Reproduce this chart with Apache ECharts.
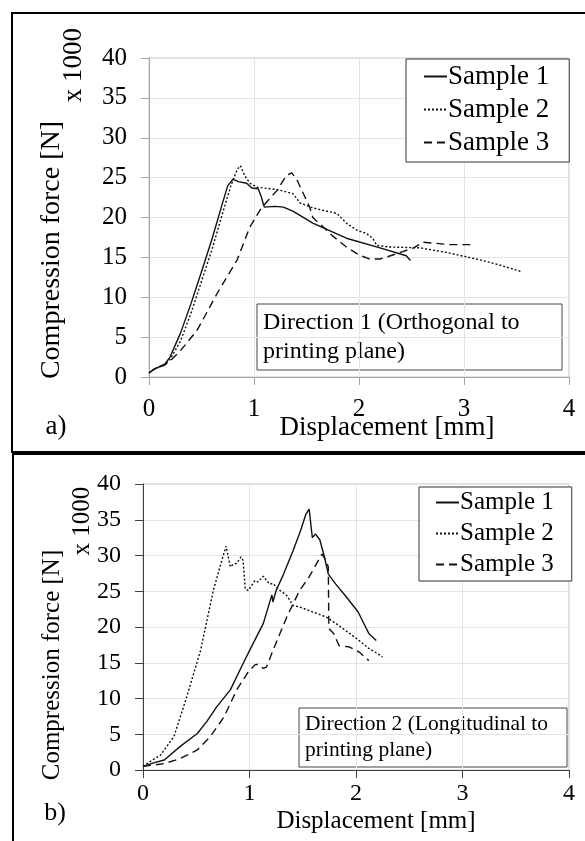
<!DOCTYPE html>
<html>
<head>
<meta charset="utf-8">
<script src="https://cdn.jsdelivr.net/npm/echarts@6/dist/echarts.min.js"></script>
<style>
  html, body { margin: 0; padding: 0; background: #fff; }
  #chart { width: 585px; height: 841px; }
</style>
</head>
<body>
<div id="chart"></div>
<script>
// axis ticks
const xTicks = [0, 1, 2, 3, 4];
const yTicks = [0, 5, 10, 15, 20, 25, 30, 35, 40];
const sampleNames = ['Sample 1', 'Sample 2', 'Sample 3'];

// a) Direction 1 - displacement [mm] / force [N x 1000]
const dir1S1x = [0, 0.05, 0.15, 0.2, 0.3, 0.4, 0.5, 0.6, 0.7, 0.75, 0.8, 0.85, 0.93, 0.98, 1.04, 1.07, 1.09, 1.1, 1.2, 1.28, 1.37, 1.56, 1.88, 2.2, 2.45, 2.49];
const dir1S1y = [0.5, 1.0, 1.6, 2.5, 5.5, 9.2, 13.2, 17.3, 21.8, 24.0, 24.8, 24.5, 24.3, 23.7, 23.6, 22.6, 21.6, 21.3, 21.4, 21.3, 20.8, 19.3, 17.4, 16.2, 15.2, 14.6];
const dir1S2x = [0, 0.05, 0.15, 0.2, 0.3, 0.4, 0.5, 0.6, 0.7, 0.78, 0.84, 0.87, 0.91, 0.96, 1.03, 1.22, 1.25, 1.37, 1.44, 1.56, 1.79, 1.88, 1.98, 2.07, 2.13, 2.17, 2.29, 2.58, 2.84, 3.15, 3.35, 3.55];
const dir1S2y = [0.5, 1.0, 1.6, 2.2, 4.5, 8.0, 12.0, 16.0, 20.5, 24.0, 26.0, 26.5, 25.3, 24.3, 23.8, 23.5, 23.4, 23.0, 21.8, 21.2, 20.5, 19.3, 18.4, 18.0, 17.4, 16.5, 16.3, 16.2, 15.6, 14.7, 14.0, 13.2];
const dir1S3x = [0, 0.05, 0.15, 0.2, 0.3, 0.46, 0.65, 0.84, 0.96, 1.07, 1.22, 1.31, 1.36, 1.41, 1.47, 1.53, 1.56, 1.66, 1.72, 1.88, 2.0, 2.1, 2.2, 2.3, 2.52, 2.61, 2.87, 3.1];
const dir1S3y = [0.5, 1.0, 1.5, 2.0, 3.3, 5.9, 10.5, 14.7, 18.8, 21.2, 23.4, 25.3, 25.6, 24.7, 23.0, 21.3, 20.0, 18.8, 18.0, 16.3, 15.3, 14.8, 14.8, 15.2, 16.2, 16.9, 16.6, 16.6];

// b) Direction 2
const dir2S1x = [0, 0.1, 0.2, 0.35, 0.51, 0.6, 0.69, 0.82, 0.94, 1.0, 1.13, 1.21, 1.22, 1.25, 1.32, 1.41, 1.48, 1.53, 1.56, 1.59, 1.62, 1.66, 1.7, 1.74, 1.81, 1.91, 2.02, 2.09, 2.12, 2.19];
const dir2S1y = [0.5, 1.0, 1.4, 3.3, 5.1, 6.8, 8.8, 11.2, 14.9, 16.7, 20.5, 24.5, 23.5, 25.1, 27.4, 30.7, 33.5, 35.8, 36.5, 32.5, 33.0, 32.2, 30.0, 27.4, 26.0, 24.2, 22.1, 20.0, 19.1, 18.1];
const dir2S2x = [0, 0.08, 0.165, 0.29, 0.41, 0.54, 0.66, 0.74, 0.78, 0.82, 0.85, 0.88, 0.92, 0.94, 0.96, 0.99, 1.05, 1.08, 1.13, 1.16, 1.19, 1.22, 1.27, 1.35, 1.41, 1.47, 1.56, 1.72, 1.81, 1.94, 2.03, 2.12, 2.2, 2.25];
const dir2S2y = [0.5, 1.3, 2.1, 4.65, 10.2, 16.7, 25.1, 29.3, 31.3, 28.4, 28.8, 28.9, 29.8, 29.3, 25.3, 25.1, 26.5, 26.3, 27.1, 26.5, 26.0, 26.1, 25.3, 24.4, 23.0, 22.8, 22.3, 21.4, 20.5, 19.1, 18.1, 17.0, 16.3, 15.8];
const dir2S3x = [0, 0.2, 0.35, 0.51, 0.63, 0.76, 0.88, 1.0, 1.02, 1.05, 1.08, 1.13, 1.16, 1.22, 1.35, 1.47, 1.56, 1.68, 1.72, 1.74, 1.745, 1.79, 1.84, 1.94, 2.03, 2.12];
const dir2S3y = [0.5, 0.9, 1.6, 2.8, 4.65, 7.4, 11.2, 14.0, 14.2, 14.7, 14.8, 14.2, 14.4, 16.7, 21.4, 25.1, 27.0, 30.2, 29.3, 28.4, 19.8, 19.1, 17.4, 17.2, 16.5, 15.3];

const serif = '"Liberation Serif", "DejaVu Serif", serif';
const zip = (xs, ys) => xs.map((x, i) => [x, ys[i]]);
const lineTypes = ['solid', [2, 2], [8, 5]];

const chart = echarts.init(document.getElementById('chart'));

function axesFor(idx, axisColor, fontSize, xMargin) {
	const x = {
		type: 'value', gridIndex: idx, min: xTicks[0], max: xTicks[xTicks.length - 1], interval: 1,
		axisLine: { show: true, lineStyle: { color: axisColor } },
		axisTick: { show: true, length: 8, lineStyle: { color: axisColor } },
		splitLine: { show: true, lineStyle: { color: '#e4e4e4' } },
		axisLabel: { color: '#000', fontFamily: serif, fontSize: fontSize, margin: xMargin }
	};
	const y = {
		type: 'value', gridIndex: idx, min: yTicks[0], max: yTicks[yTicks.length - 1], interval: 5,
		axisLine: { show: true, lineStyle: { color: axisColor } },
		axisTick: { show: true, length: 8, lineStyle: { color: axisColor } },
		splitLine: { show: true, lineStyle: { color: '#e4e4e4' } },
		axisLabel: { color: '#000', fontFamily: serif, fontSize: fontSize, margin: 22 }
	};
	return [x, y];
}

const [xa, ya] = axesFor(0, '#a6a6a6', 25, 20);
const [xb, yb] = axesFor(1, '#404040', 24, 12);

const dataSets = [
	[zip(dir1S1x, dir1S1y), zip(dir1S2x, dir1S2y), zip(dir1S3x, dir1S3y)],
	[zip(dir2S1x, dir2S1y), zip(dir2S2x, dir2S2y), zip(dir2S3x, dir2S3y)]
];

const series = [];
dataSets.forEach((set, g) => {
	set.forEach((data, i) => {
		series.push({
			name: sampleNames[i], type: 'line', xAxisIndex: g, yAxisIndex: g,
			data: data, symbol: 'none', smooth: false, animation: false,
			lineStyle: { color: '#111', width: 1.4, type: lineTypes[i] },
			itemStyle: { color: '#111' }
		});
	});
});

// Excel-style legend box: short line then label
function legendAt(left, top, fontSize, rowH, pad) {
	return {
		orient: 'vertical', left: left, top: top, data: sampleNames,
		itemWidth: 23, itemHeight: 12, itemGap: 6,
		padding: pad,
		borderColor: '#333', borderWidth: 1, backgroundColor: '#fff',
		selectedMode: false,
		itemStyle: { opacity: 0, borderWidth: 0 },
		textStyle: { fontFamily: serif, fontSize: fontSize, color: '#000', padding: [0, 0, 0, -4], lineHeight: rowH }
	};
}

function txt(x, y, text, size, rot) {
	return {
		type: 'text', x: x, y: y, rotation: rot || 0,
		style: { text: text, font: size + 'px ' + serif, fill: '#000', align: 'center', verticalAlign: 'middle' }
	};
}

function noteBox(x, y, w, h, lines, size) {
	return {
		type: 'group', x: x, y: y, children: [
			{ type: 'rect', shape: { x: 0, y: 0, width: w, height: h }, style: { fill: '#fff', stroke: '#444', lineWidth: 1 } },
			{ type: 'text', x: 6, y: h / 2, style: { text: lines.join('\n'), font: size + 'px ' + serif, fill: '#000', verticalAlign: 'middle', lineHeight: size * 1.22 } }
		]
	};
}

chart.setOption({
	animation: false,
	grid: [
		{ left: 149, top: 58, width: 420, height: 319, show: true, borderColor: '#c4c4c4', borderWidth: 1 },
		{ left: 143, top: 484, width: 426, height: 286, show: true, borderColor: '#c4c4c4', borderWidth: 1 }
	],
	xAxis: [xa, xb],
	yAxis: [ya, yb],
	legend: [legendAt(406, 59, 27, 26, [4, 20, 6, 17]), legendAt(419, 487, 25, 25, [3, 18, 4, 16])],
	series: series,
	graphic: [
		{ type: 'polyline', shape: { points: [[600, 13], [12, 13], [12, 452], [600, 452]] }, style: { stroke: '#000', lineWidth: 2, fill: null } },
		{ type: 'polyline', shape: { points: [[600, 454], [13, 454], [13, 860]] }, style: { stroke: '#000', lineWidth: 2, fill: null } },
		txt(52, 250, 'Compression force [N]', 28, Math.PI / 2),
		txt(74, 65, 'x 1000', 27, Math.PI / 2),
		txt(387, 428, 'Displacement [mm]', 27),
		txt(56, 427, 'a)', 27),
		txt(52, 665, 'Compression force [N]', 25, Math.PI / 2),
		txt(82, 521, 'x 1000', 25, Math.PI / 2),
		txt(376, 821, 'Displacement [mm]', 25),
		txt(55, 813, 'b)', 26),
		noteBox(257, 304, 305, 66, ['Direction 1 (Orthogonal to', 'printing plane)'], 24),
		noteBox(299, 708, 268, 59, ['Direction 2 (Longitudinal to', 'printing plane)'], 21.5)
	]
});
</script>
</body>
</html>
